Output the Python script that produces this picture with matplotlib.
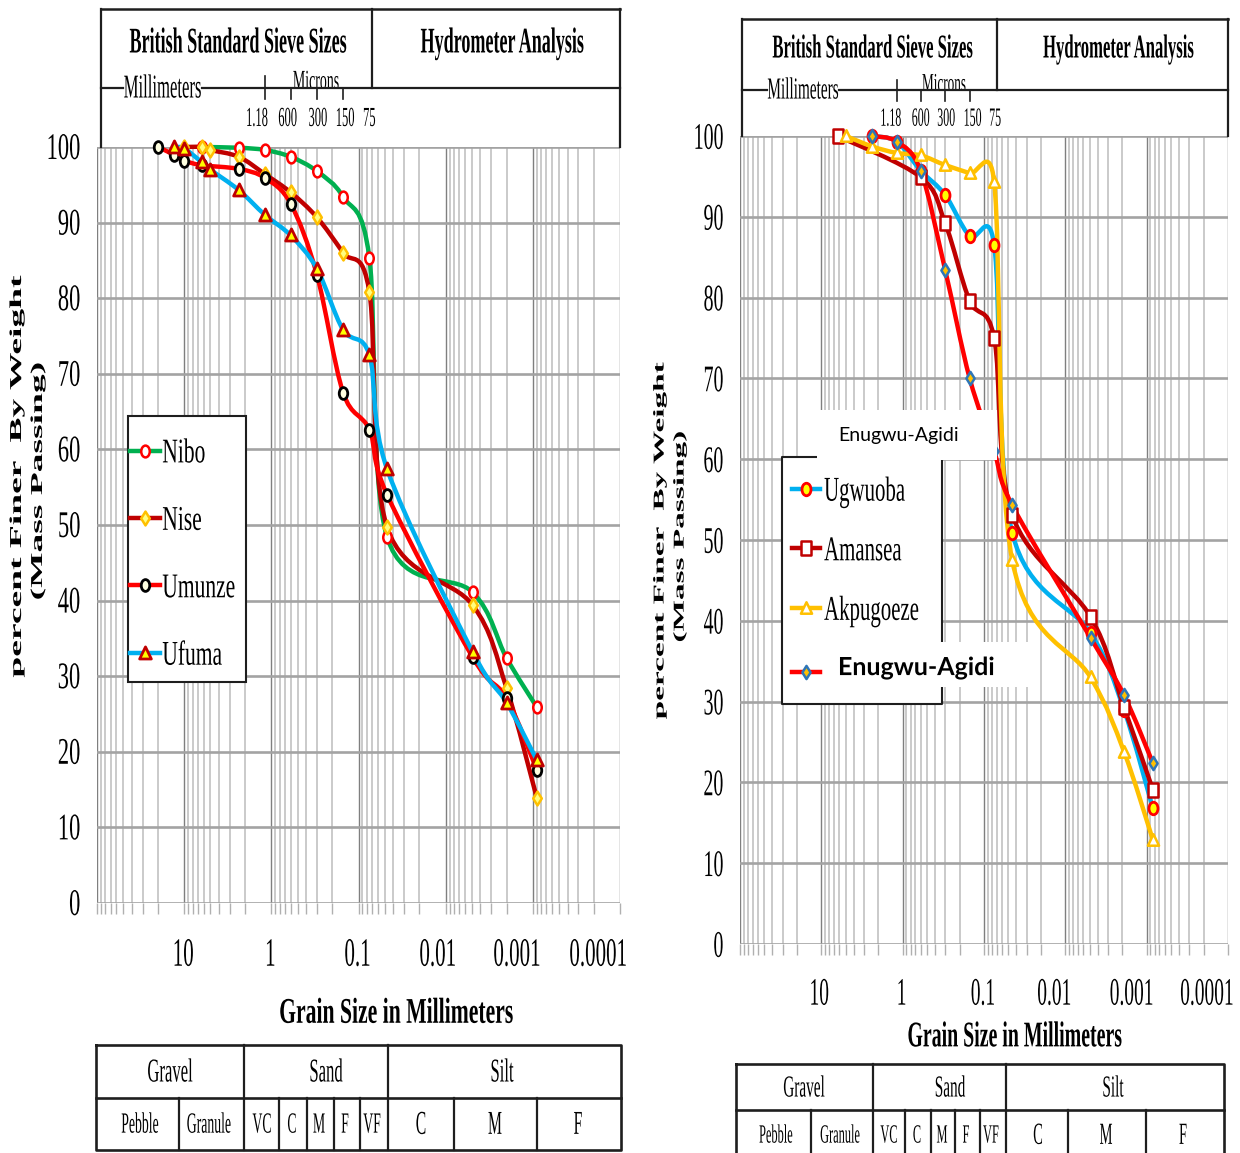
import numpy as np
import matplotlib
matplotlib.use('Agg')
import matplotlib.pyplot as plt
from matplotlib.path import Path
from matplotlib.patches import PathPatch, Rectangle
from matplotlib.lines import Line2D
from matplotlib.transforms import (Affine2D, ScaledTranslation, Bbox,
                                   TransformedBbox, blended_transform_factory)
from matplotlib.patheffects import AbstractPathEffect
from matplotlib.ticker import LogLocator, NullFormatter
from matplotlib.font_manager import FontProperties

# ---------------- data ----------------
# left chart (grain size in mm, percent passing)
nibo_d = [6.3, 2.36, 1.18, 0.6, 0.3, 0.15, 0.075, 0.047, 0.0049, 0.002, 0.0009]
nibo_v = [100, 99.9, 99.6, 98.7, 96.8, 93.4, 85.3, 48.4, 41.1, 32.4, 25.9]
nise_d = [10, 6.3, 5, 2.36, 1.18, 0.6, 0.3, 0.15, 0.075, 0.047, 0.0049, 0.002, 0.0009]
nise_v = [100, 100, 99.6, 98.7, 96.4, 94.0, 90.7, 86.0, 80.8, 49.7, 39.4, 28.4, 13.9]
umunze_d = [20, 13.2, 10, 6.3, 2.36, 1.18, 0.6, 0.3, 0.15, 0.075, 0.047, 0.0049, 0.002, 0.0009]
umunze_v = [100, 99.0, 98.2, 97.6, 97.1, 95.9, 92.5, 83.1, 67.5, 62.6, 54.0, 32.5, 27.1, 17.6]
ufuma_d = [13.2, 10, 6.3, 5, 2.36, 1.18, 0.6, 0.3, 0.15, 0.075, 0.047, 0.0049, 0.002, 0.0009]
ufuma_v = [100, 99.8, 98.0, 97.0, 94.3, 91.0, 88.3, 83.9, 75.8, 72.5, 57.4, 33.2, 26.5, 18.9]

# right chart
ugwuoba_d = [2.36, 1.18, 0.6, 0.3, 0.15, 0.075, 0.045, 0.0049, 0.0019, 0.00084]
ugwuoba_v = [100, 99.3, 95.7, 92.7, 87.6, 86.5, 50.9, 38.5, 29.0, 16.8]
amansea_d = [6.3, 0.6, 0.3, 0.15, 0.075, 0.045, 0.0049, 0.0019, 0.00084]
amansea_v = [100, 94.9, 89.2, 79.6, 75.0, 53.1, 40.5, 29.3, 19.1]
akpugoeze_d = [5, 2.36, 1.18, 0.6, 0.3, 0.15, 0.075, 0.045, 0.0049, 0.0019, 0.00084]
akpugoeze_v = [100, 98.7, 97.9, 97.6, 96.4, 95.4, 94.3, 47.5, 33.0, 23.8, 12.9]
enugwu_d = [2.36, 1.18, 0.6, 0.3, 0.15, 0.075, 0.045, 0.0049, 0.0019, 0.00084]
enugwu_v = [100, 99.3, 95.7, 83.4, 70.0, 61.0, 54.3, 37.9, 30.8, 22.4]

left_names = ['Nibo', 'Nise', 'Umunze', 'Ufuma']
right_names = ['Ugwuoba', 'Amansea', 'Akpugoeze', 'Enugwu-Agidi']

xtick_vals = [100, 10, 1, 0.1, 0.01, 0.001, 0.0001]
xtick_labels = ['', '10', '1', '0.1', '0.01', '0.001', '0.0001']
ytick_vals = list(range(0, 101, 10))
sieve_ticks = [1.18, 0.6, 0.3, 0.15]
sieve_label_pos = [1.18, 0.6, 0.3, 0.15, 0.075]
sieve_labels = ['1.18', '600', '300', '150', '75']
class_top = ['Gravel', 'Sand', 'Silt']
class_bottom = ['Pebble', 'Granule', 'VC', 'C', 'M', 'F', 'VF', 'C', 'M', 'F']

# ---------------- helpers ----------------
W, H = 1240, 1153
fig = plt.figure(figsize=(W / 100, H / 100), dpi=100)
SERIF = 'Liberation Serif'
SANS = 'Lato'


class Stretch(AbstractPathEffect):
    """Draw glyphs stretched (reference text is tall and condensed)."""
    def __init__(self, sx=1.0, sy=1.0, offset=(0, 0)):
        super().__init__(offset=offset)
        self.sx, self.sy = sx, sy

    def draw_path(self, renderer, gc, tpath, affine, rgbFace=None):
        v = tpath.vertices
        cx = (v[:, 0].min() + v[:, 0].max()) / 2 if len(v) else 0.0
        cy = 33.0  # middle of cap height, in text-path units (em = 100)
        t = (Affine2D().translate(-cx, -cy).scale(self.sx, self.sy).translate(cx, cy)
             + affine + self._offset_transform(renderer))
        renderer.draw_path(gc, tpath, t, rgbFace)


def stretch(t, sx=1.0, sy=1.0, offset=(0, 0)):
    t.set_path_effects([Stretch(sx=sx, sy=sy, offset=offset)])
    return t


def fx(x):
    return x / W


def fy(y):
    return 1 - y / H


def ftext(x, y, s, size, sy=2.0, weight='normal', ha='center', va='center',
          family=SERIF, z=10, **kw):
    t = fig.text(fx(x), fy(y), s, fontsize=size, family=family, weight=weight,
                 ha=ha, va=va, zorder=z, **kw)
    return stretch(t, sy=sy)


def fline(xs, ys, lw=1.6, color='#1e1e1e', z=8):
    fig.add_artist(Line2D([fx(x) for x in xs], [fy(y) for y in ys], lw=lw,
                          color=color, zorder=z, transform=fig.transFigure,
                          solid_capstyle='projecting'))


PXU, PXV = 85.0, 7.8   # approx. pixels per log-decade / per percent


def smooth_path(d, v, cap=1.5):
    """Excel-like smoothed line (Bezier through the data points)."""
    P = np.column_stack([np.log10(np.asarray(d, float)) * PXU,
                         np.asarray(v, float) * PXV])
    n = len(P)
    verts = [P[0]]
    codes = [Path.MOVETO]
    for i in range(n - 1):
        p0 = P[i - 1] if i > 0 else P[i]
        p1, p2 = P[i], P[i + 1]
        p3 = P[i + 2] if i + 2 < n else P[i + 1]
        seg = np.hypot(*(p2 - p1))
        a1 = (p2 - p0) / 6
        a2 = (p3 - p1) / 6
        for a in (a1, a2):
            L = np.hypot(*a)
            if L > cap * seg and L > 0:
                a *= cap * seg / L
        verts += [p1 + a1, p2 - a2, p2]
        codes += [Path.CURVE4] * 3
    verts = np.array(verts)
    verts[:, 0] = 10 ** (verts[:, 0] / PXU)
    verts[:, 1] = verts[:, 1] / PXV
    return Path(verts, codes)


circ = Path.unit_circle().transformed(Affine2D().scale(0.72, 1.0))
diam = Path([(0, -1), (0.62, 0), (0, 1), (-0.62, 0), (0, -1)],
            [Path.MOVETO, Path.LINETO, Path.LINETO, Path.LINETO, Path.CLOSEPOLY])
tri = Path([(-0.8, -0.75), (0.8, -0.75), (0, 0.9), (-0.8, -0.75)],
           [Path.MOVETO, Path.LINETO, Path.LINETO, Path.CLOSEPOLY])
sq = Path([(-0.8, -1), (0.8, -1), (0.8, 1), (-0.8, 1), (-0.8, -1)],
          [Path.MOVETO, Path.LINETO, Path.LINETO, Path.LINETO, Path.CLOSEPOLY])


def plot_series(ax, d, v, st, z):
    ax.add_patch(PathPatch(smooth_path(d, v), transform=ax.transData, fill=False,
                           edgecolor=st['color'], lw=3.2, capstyle='round',
                           joinstyle='round', zorder=z, clip_on=False))
    ax.plot(d, v, ls='none', marker=st['marker'], ms=st['ms'], mfc=st['mfc'],
            mec=st['mec'], mew=st['mew'], zorder=z + 0.5, clip_on=False)


def handle(st):
    return Line2D([], [], color=st['color'], lw=3.2, marker=st['marker'],
                  ms=st['ms'], mfc=st['mfc'], mec=st['mec'], mew=st['mew'])


def setup_axes(ax, cfg):
    ax.set_xscale('log')
    ax.set_xlim(100, 1e-4)
    ax.set_ylim(0, 100)
    ax.set_yticks(ytick_vals)
    ax.set_xticks(xtick_vals)
    ax.set_xticklabels(xtick_labels)
    ax.xaxis.set_minor_locator(LogLocator(base=10, subs=np.arange(2, 10), numticks=30))
    ax.xaxis.set_minor_formatter(NullFormatter())
    ax.grid(True, which='minor', axis='x', color='#C6C6C6', lw=1.3, zorder=0)
    ax.grid(True, which='major', axis='x', color='#7F7F7F', lw=1.0, zorder=0)
    ax.grid(True, which='major', axis='y', color='#A3A3A3', lw=1.9, zorder=0)
    ax.set_axisbelow(True)
    for s in ax.spines.values():
        s.set_visible(False)
    ax.tick_params(axis='x', which='both', direction='out', length=8, width=1,
                   color='#B0B0B0', pad=cfg['xpad'])
    ax.tick_params(axis='y', length=0, pad=cfg['ypad'])
    for lab in ax.get_yticklabels():
        lab.set_fontfamily(SERIF)
        lab.set_fontsize(cfg['ytick'][0])
        stretch(lab, sy=cfg['ytick'][1])
    for lab, dx in zip(ax.get_xticklabels(), cfg['xoff']):
        lab.set_fontfamily(SERIF)
        lab.set_fontsize(cfg['xtick'][0])
        lab.set_transform(lab.get_transform() + ScaledTranslation(dx / 100, 0, fig.dpi_scale_trans))
        stretch(lab, sy=cfg['xtick'][1])
    # x label
    ax.set_xlabel('Grain Size in Millimeters', fontfamily=SERIF, fontsize=cfg['xl'][0],
                  fontweight='bold')
    ax.xaxis.label.set_va('center')
    ax.xaxis.set_label_coords(*cfg['xl_pos'])
    stretch(ax.xaxis.label, sy=cfg['xl'][1])
    # y label (two lines)
    ax.set_ylabel('percent Finer  By Weight', fontfamily=SERIF,
                  fontsize=cfg['yl'][0], fontweight='bold')
    ax.yaxis.label.set_va('center')
    ax.yaxis.set_label_coords(*cfg['yl_pos'])
    stretch(ax.yaxis.label, sx=cfg['yl'][1])
    t2 = ax.text(*cfg['yl2_pos'], '(Mass Passing)', transform=ax.transAxes, rotation=90,
                 ha='center', va='center', fontfamily=SERIF, fontsize=cfg['yl'][0],
                 fontweight='bold')
    stretch(t2, sx=cfg['yl'][1])


def header(ax, cfg):
    L, R, T, D, HL, Bt = cfg['hdr']
    fline([L, R], [T, T], lw=1.8)
    fline([L, L], [T, Bt])
    fline([R, R], [T, Bt])
    fline([D, D], [T, HL])
    m0, m1 = cfg['mm_gap']
    fline([L, m0], [HL, HL])
    fline([m1, R], [HL, HL])
    ftext(cfg['bss'][0], cfg['bss'][1], 'British Standard Sieve Sizes', cfg['hdr_size'],
          weight='bold')
    ftext(cfg['hyd'][0], cfg['hyd'][1], 'Hydrometer Analysis', cfg['hdr_size'],
          weight='bold')
    ftext((m0 + m1) / 2, HL, 'Millimeters', cfg['mm_size'])
    mt = ftext(cfg['mic'][0], cfg['mic'][1], 'Microns', cfg['mic_size'])
    mt.set_clip_box(TransformedBbox(Bbox([[0, fy(HL - 1)], [1, 1]]), fig.transFigure))
    mt.set_clip_on(True)
    bt = blended_transform_factory(ax.transData, fig.transFigure)
    for i, d in enumerate(sieve_ticks):
        top = cfg['tick_top'] if i == 0 else HL + 1
        fig.add_artist(Line2D([d, d], [fy(top), fy(HL + 11)], transform=bt,
                              color='#1e1e1e', lw=1.2, zorder=8))
    for d, s, dx in zip(sieve_label_pos, sieve_labels, cfg['sl_off']):
        t = fig.text(d, fy(cfg['sl_y']), s,
                     transform=bt + ScaledTranslation(dx / 100, 0, fig.dpi_scale_trans),
                     ha='center', va='center', fontfamily=SERIF, fontsize=cfg['sl_size'],
                     zorder=9)
        stretch(t, sy=2.2)


def table(cfg):
    L, R, T, M, B = cfg['tab']
    fline([L, R, R, L, L], [T, T, B, B, T], lw=1.9)
    fline([L, R], [M, M], lw=1.9)
    for x in cfg['tab_full']:
        fline([x, x], [T, B], lw=1.6)
    for x in cfg['tab_sub']:
        fline([x, x], [M, B], lw=1.6)
    for s, x in zip(class_top, cfg['top_x']):
        ftext(x, cfg['top_y'], s, cfg['tt_size'], sy=2.0)
    for i, (s, x) in enumerate(zip(class_bottom, cfg['bot_x'])):
        size = cfg['tb_size'] if i < 7 else cfg['tbs_size']
        ftext(x, cfg['bot_y'], s, size, sy=2.13)


# ---------------- styles ----------------
st_nibo = dict(color='#00B050', marker=circ, ms=8.5, mfc='white', mec='#FF0000', mew=1.8)
st_nise = dict(color='#C00000', marker=diam, ms=10, mfc='#FFFF80', mec='#FFC000', mew=1.8)
st_umunze = dict(color='#FF0000', marker=circ, ms=8.5, mfc='#FFFFE0', mec='#000000', mew=2.0)
st_ufuma = dict(color='#00B0F0', marker=tri, ms=9.5, mfc='#FFFF00', mec='#C00000', mew=2.0)
st_ugw = dict(color='#00B0F0', marker=circ, ms=9, mfc='#FFFF00', mec='#FF0000', mew=2.0)
st_ama = dict(color='#C00000', marker=sq, ms=9.5, mfc='white', mec='#C00000', mew=1.8)
st_akp = dict(color='#FFC000', marker=tri, ms=9, mfc='white', mec='#FFC000', mew=1.8)
st_enu = dict(color='#FF0000', marker=diam, ms=9.5, mfc='#FFC000', mec='#2E75B6', mew=1.8)

# ---------------- left chart ----------------
cfgL = dict(xpad=22.5, ypad=12, ytick=(16.2, 1.67), xtick=(15.1, 1.92),
            xoff=[0, -1, -1, -1, -8, -16, -22],
            xl=(15.6, 1.67), xl_pos=((396 - 97) / 523, (903 - 1013) / 756),
            yl=(12.0, 2.25), yl_pos=((17 - 97) / 523, (903 - 477) / 756),
            yl2_pos=((38 - 97) / 523, (903 - 482) / 756),
            hdr=(101, 620, 9, 372, 88, 147), mm_gap=(123, 202), hdr_size=13,
            bss=(238, 42), hyd=(502, 42), mm_size=12, mic=(316, 81), mic_size=10,
            tick_top=76, sl_y=118, sl_size=9, sl_off=[-8, -3, 1, 2, 0],
            tab=(96, 621, 1045, 1098, 1150), tab_full=[244, 388],
            tab_sub=[179, 279, 307, 334, 360, 454, 537],
            top_x=[170, 326, 502], top_y=1072, tt_size=12, tb_size=9.9, tbs_size=11.3,
            bot_x=[140, 209, 262, 292, 319, 345, 372, 421, 495, 578], bot_y=1124)

axL = fig.add_axes([fx(97), fy(903), (620 - 97) / W, (903 - 147) / H])
for (d, v, st), z in zip([(nibo_d, nibo_v, st_nibo), (nise_d, nise_v, st_nise),
                          (umunze_d, umunze_v, st_umunze), (ufuma_d, ufuma_v, st_ufuma)],
                         [3, 3.1, 3.2, 3.3]):
    plot_series(axL, d, v, st, z)
setup_axes(axL, cfgL)
header(axL, cfgL)
table(cfgL)

fig.add_artist(Rectangle((fx(128), fy(682)), (246 - 128) / W, (682 - 416) / H,
                         transform=fig.transFigure, fc='white', ec='#1e1e1e', lw=1.5, zorder=4))
legL = fig.legend([handle(s) for s in [st_nibo, st_nise, st_umunze, st_ufuma]], left_names,
                  loc='upper left', bbox_to_anchor=(fx(130), fy(443)),
                  bbox_transform=fig.transFigure, frameon=False,
                  prop=FontProperties(family=SERIF, size=15.5), handlelength=1.4,
                  handletextpad=0.1, labelspacing=2.2, borderpad=0, borderaxespad=0,
                  numpoints=1)
legL.set_zorder(6)
for t in legL.get_texts():
    stretch(t, sy=1.61)

# ---------------- right chart ----------------
cfgR = dict(xpad=21.7, ypad=12, ytick=(14.3, 1.89), xtick=(14.0, 2.0),
            xoff=[0, -2, -1, -1, -11, -15, -21],
            xl=(14.3, 1.82), xl_pos=((1015 - 740) / 488, (944 - 1036) / 808),
            yl=(10.8, 2.22), yl_pos=((660 - 740) / 488, (944 - 541) / 808),
            yl2_pos=((680 - 740) / 488, (944 - 537) / 808),
            hdr=(742, 1228, 19, 997, 90, 136), mm_gap=(767, 839), hdr_size=12,
            bss=(872, 48), hyd=(1118, 48), mm_size=11, mic=(944, 84), mic_size=9.5,
            tick_top=80, sl_y=118, sl_size=8.6, sl_off=[-6, 0, 1, 3, 1],
            tab=(736, 1224, 1064, 1110, 1162), tab_full=[873, 1006],
            tab_sub=[811, 905, 931, 955, 980, 1068, 1146],
            top_x=[804, 950, 1113], top_y=1088, tt_size=11, tb_size=8.9, tbs_size=10.4,
            bot_x=[776, 840, 889, 917, 942, 966, 991, 1038, 1106, 1183], bot_y=1135)

axR = fig.add_axes([fx(740), fy(944), (1228 - 740) / W, (944 - 136) / H])
for (d, v, st), z in zip([(ugwuoba_d, ugwuoba_v, st_ugw), (amansea_d, amansea_v, st_ama),
                          (akpugoeze_d, akpugoeze_v, st_akp), (enugwu_d, enugwu_v, st_enu)],
                         [3, 3.1, 3.2, 3.3]):
    plot_series(axR, d, v, st, z)
setup_axes(axR, cfgR)
header(axR, cfgR)
table(cfgR)

# legend box (partly covered by white boxes in the reference)
fig.add_artist(Rectangle((fx(782), fy(704)), (942 - 782) / W, (704 - 457) / H,
                         transform=fig.transFigure, fc='white', ec='none', zorder=4))
fline([817, 782, 782, 942, 942], [457, 457, 704, 704, 687], lw=1.5, z=4.2)
fline([942, 942], [457, 642], lw=1.5, z=4.2)
fig.add_artist(Rectangle((fx(818), fy(687)), (1028 - 818) / W, (687 - 642) / H,
                         transform=fig.transFigure, fc='white', ec='none', zorder=4.5))
legR = fig.legend([handle(s) for s in [st_ugw, st_ama, st_akp, st_enu]], right_names,
                  loc='upper left', bbox_to_anchor=(fx(792), fy(481.5)),
                  bbox_transform=fig.transFigure, frameon=False,
                  prop=FontProperties(family=SERIF, size=15), handlelength=1.35,
                  handletextpad=0.19, labelspacing=1.92, borderpad=0, borderaxespad=0,
                  numpoints=1)
legR.set_zorder(6)
rt = legR.get_texts()
for t in rt[:3]:
    stretch(t, sy=1.67)
rt[3].set_fontfamily(SANS)
rt[3].set_fontweight('bold')
rt[3].set_fontsize(18)
stretch(rt[3], offset=(10, 3))

# white overlay with station name
fig.add_artist(Rectangle((fx(817), fy(460)), (997 - 817) / W, (460 - 410) / H,
                         transform=fig.transFigure, fc='white', ec='none', zorder=7))
fig.text(fx(838), fy(435), 'Enugwu-Agidi', fontfamily=SANS, fontsize=14,
         ha='left', va='center', zorder=8)

fig.savefig('out.png', dpi=100, facecolor='white')
